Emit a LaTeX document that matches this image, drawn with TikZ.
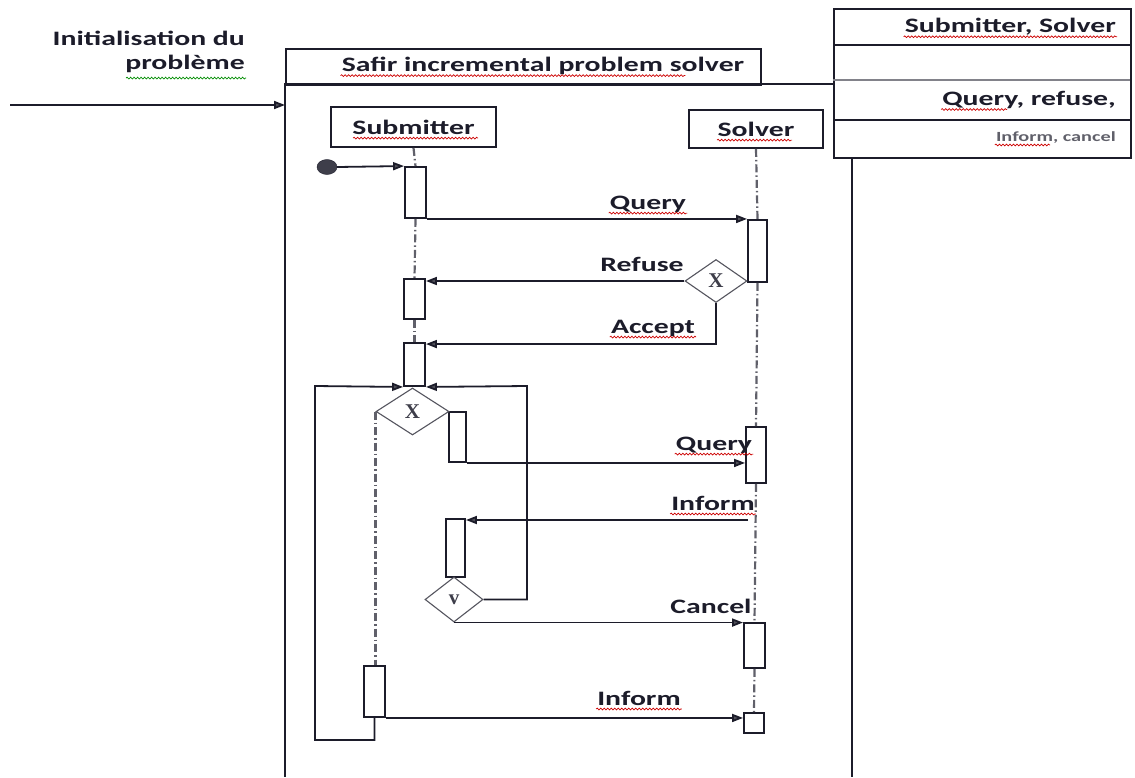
\documentclass[tikz,border=0pt]{standalone}
\usepackage{fontspec}
\setmainfont{Carlito}
\newfontfamily\lblfont[FakeStretch=1.45]{Carlito}
\newfontfamily\gatefont{Liberation Serif}
\usetikzlibrary{arrows.meta,shapes.geometric,decorations.pathmorphing}
\definecolor{ink}{HTML}{1C1C2A}
\definecolor{tip}{HTML}{505058}
\begin{document}
\begin{tikzpicture}[x=1pt,y=-1pt,
  frame/.style={draw=ink, line width=2.2pt},
  line/.style={draw=ink, line width=1.8pt},
  msg/.style={line, -{Triangle[length=11pt,width=8pt,fill=tip]}},
  life/.style={draw=ink!70, line width=2.2pt, dash pattern=on 8pt off 3pt on 1.5pt off 3pt},
  act/.style={rectangle, draw=ink, line width=1.9pt, fill=white, inner sep=0pt},
  gate/.style={diamond, draw=ink!75, line width=1.1pt, fill=white, inner sep=0pt,
    font=\gatefont\bfseries\fontsize{21}{21}\selectfont, text=ink!85},
  role/.style={rectangle, draw=ink, line width=1.9pt, inner sep=0pt},
  lbl/.style={font=\lblfont\bfseries\fontsize{20.5}{24}\selectfont, text=ink, inner sep=1pt},
  small/.style={font=\lblfont\bfseries\fontsize{14}{16}\selectfont, text=ink!70, inner sep=1pt},
  squig/.style={draw=red!80!black, line width=0.7pt, decorate,
    decoration={snake, amplitude=0.9pt, segment length=3.5pt}},
  squigg/.style={squig, draw=green!55!black}
]
\useasboundingbox (0,0) rectangle (1135,777);

% ---- entry of the problem ----
\node[lbl, align=right, anchor=north east] (initlbl) at (246,30)
  {Initialisation du\\problème};
\coordinate (src) at (10,105);
\coordinate (entry) at (285,105);
\draw[msg] (src) -- (entry);

% ---- outer frame and title ----
\node[frame, rectangle, anchor=north west, minimum width=475pt, minimum height=36pt,
  inner sep=0pt] (titlebox) at (285,48) {};
\node[lbl] (title) at (543,66) {Safir incremental problem solver};
\draw[frame] (833,84) -- (285,84) -- (285,777);
\draw[frame] (852,157) -- (852,777);

% ---- roles and messages summary ----
\node[frame, rectangle, anchor=north west, minimum width=297pt, minimum height=149pt,
  inner sep=0pt] (legend) at (833,8) {};
\draw[line] (833,45) -- (1130,45);
\draw[draw=ink!55, line width=1.4pt] (833,80) -- (1130,80);
\draw[line] (833,120) -- (1130,120);
\node[lbl, anchor=east] (roles) at (1117,27) {Submitter, Solver};
\node[lbl, anchor=east] (msgs) at (1117,100) {Query, refuse,};
\node[small, anchor=east] (msgs2) at (1117,138) {Inform, cancel};

% ---- lifeline heads ----
\node[role, minimum width=165pt, minimum height=40pt, lbl] (sub) at (413.5,127) {Submitter};
\node[role, minimum width=134pt, minimum height=38pt, lbl] (sol) at (756,129) {Solver};

% ---- activations ----
\node[act, minimum width=21pt, minimum height=51pt] (a1) at (415.5,192.5) {};
\node[act, minimum width=19pt, minimum height=62pt] (s1) at (757.5,251) {};
\node[act, minimum width=21pt, minimum height=40pt] (a2) at (414.5,299) {};
\node[act, minimum width=21pt, minimum height=43pt] (a3) at (414.5,364.5) {};
\node[act, minimum width=17pt, minimum height=50pt] (a4) at (457.5,437) {};
\node[act, minimum width=20pt, minimum height=56pt] (s2) at (756,455) {};
\node[act, minimum width=19pt, minimum height=58pt] (a5) at (455.5,548) {};
\node[act, minimum width=21pt, minimum height=45pt] (s3) at (754.5,645.5) {};
\node[act, minimum width=21pt, minimum height=51pt] (a6) at (374.5,691.5) {};
\node[act, minimum width=20pt, minimum height=20pt] (s4) at (754,723) {};

% ---- lifelines ----
\draw[life] (sub.south) -- (a1.north);
\draw[life] (a1.south) -- (a2.north);
\draw[life] (a2.south) -- (a3.north);
\draw[life] (sol.south) -- (s1.north);
\draw[life] (s1.south) -- (s2.north);
\draw[life] (s2.south) -- (s3.north);
\draw[life] (s3.south) -- (s4.north);

% ---- decisions ----
\node[gate, minimum width=62pt, minimum height=43pt] (g1) at (716,281) {X};
\node[gate, minimum width=73pt, minimum height=47pt] (g2) at (412.5,411.5) {X};
\node[gate, minimum width=58pt, minimum height=45pt] (g3) at (454,599.5) {v};
\draw[life] (g2.west) -- (g2.west |- a6.north);

% ---- start ----
\node[ellipse, fill=ink!85, draw=ink, minimum width=20pt, minimum height=15pt,
  inner sep=0pt] (start) at (327,167) {};
\draw[msg] (start.east) -- (a1.north west);

% ---- messages ----
\draw[msg] (a1.south east) -- (a1.south east -| s1.west);
\node[lbl] (q1) at (648,204) {Query};
\draw[msg] (g1.west) -- (g1.west -| a2.east);
\node[lbl] (refuse) at (642,264) {Refuse};
\draw[msg] (g1.south) |- ([yshift=-2pt]a3.north east);
\node[lbl] (accept) at (653,328) {Accept};

% loop back into the decision
\coordinate (lb) at (315,740);
\coordinate (lt) at (315,386);
\coordinate (rb) at (527,599.5);
\coordinate (rt) at (527,386);
\draw[msg] (a6.south) |- (lb) -- (lt) -- (a3.south west);
\draw[msg] (g3.east) -- (rb) -- (rt) -- (a3.south east);

\draw[msg] (a4.south east) -- (a4.south east -| s2.west);
\node[lbl] (q2) at (714,445) {Query};
\coordinate (inf) at (748,520);
\draw[msg] (inf) -- (inf -| a5.east);
\node[lbl] (i1) at (713,503) {Inform};
\draw[msg] (g3.south) -- (g3.south -| s3.west);
\node[lbl] (cancel) at (711,606) {Cancel};
\draw[msg] (a6.south east) -- (a6.south east -| s4.west);
\node[lbl] (i2) at (639,698) {Inform};

% ---- spelling marks ----
\draw[squigg] ([yshift=-4pt]initlbl.south west -| 126,0) -- ([yshift=-4pt]initlbl.south east);
\draw[squig] ([yshift=-4pt]title.base west) -- ([xshift=-60pt,yshift=-4pt]title.base east);
\draw[squig] ([yshift=-4pt]sub.base west -| 353,0) -- ([yshift=-4pt]sub.base west -| 478,0);
\draw[squig] ([yshift=-4pt]sol.base west -| 717,0) -- ([yshift=-4pt]sol.base west -| 792,0);
\draw[squig] ([yshift=-4pt]q1.base west) -- ([yshift=-4pt]q1.base east);
\draw[squig] ([yshift=-4pt]accept.base west) -- ([yshift=-4pt]accept.base east);
\draw[squig] ([yshift=-4pt]q2.base west) -- ([yshift=-4pt]q2.base east);
\draw[squig] ([yshift=-4pt]i1.base west) -- ([yshift=-4pt]i1.base east);
\draw[squig] ([yshift=-4pt]i2.base west) -- ([yshift=-4pt]i2.base east);
\draw[squig] ([yshift=-4pt]roles.base west) -- ([yshift=-4pt]roles.base east);
\draw[squig] ([yshift=-4pt]msgs.base west) -- ([yshift=-4pt]msgs.base west -| 1007,0);
\draw[squig] ([yshift=-3pt]msgs2.base west) -- ([yshift=-3pt]msgs2.base west -| 1050,0);
\end{tikzpicture}
\end{document}
